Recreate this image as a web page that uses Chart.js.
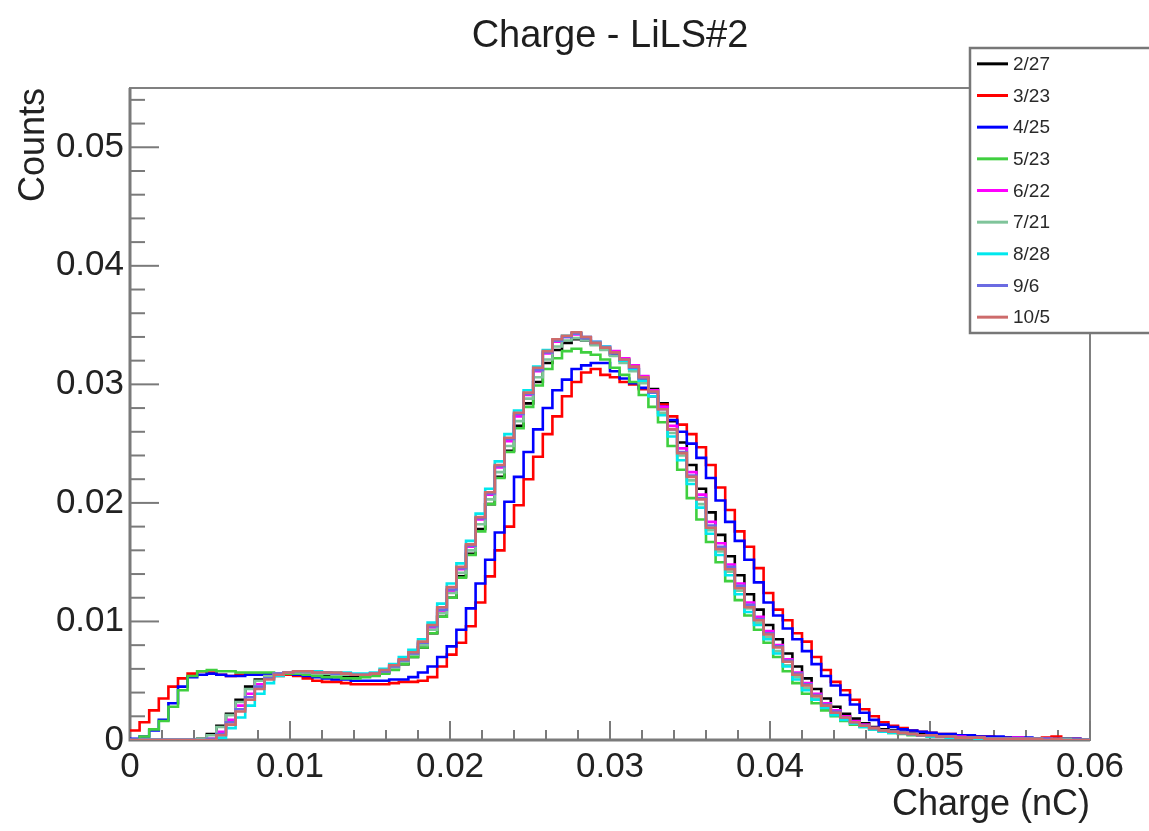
<!DOCTYPE html>
<html>
<head>
<meta charset="utf-8">
<script src="https://cdn.jsdelivr.net/npm/chart.js@4/dist/chart.umd.min.js"></script>
<style>
html,body{margin:0;padding:0;background:#fff;}
#wrap{width:1149px;height:831px;position:relative;}
</style>
</head>
<body>
<div id="wrap"><canvas id="c"></canvas></div>
<script>
// ---- data ----
const chartTitle = 'Charge - LiLS#2';
const xAxisTitle = 'Charge (nC)';
const yAxisTitle = 'Counts';
const seriesLabels = ['2/27','3/23','4/25','5/23','6/22','7/21','8/28','9/6','10/5'];
const seriesColors = ['#000000','#ff0000','#0000ff','#3fcf3f','#ff00ff','#7fc49a','#00e8ee','#6b6be2','#cd6b6b'];
const binWidth = 0.0006;   // 100 bins from 0 to 0.06 nC
const xMin = 0, xMax = 0.06, yMin = 0, yMax = 0.055;
const xTickValues = [0,0.01,0.02,0.03,0.04,0.05,0.06];
const xTickLabels = ['0','0.01','0.02','0.03','0.04','0.05','0.06'];
const yTickValues = [0,0.01,0.02,0.03,0.04,0.05];
const yTickLabels = ['0','0.01','0.02','0.03','0.04','0.05'];

const s0227 = [0,0,0,0,0,0,0,.0001,.0005,.0012,
.0022,.0034,.0045,.0051,.0054,.0055,.0056,.0056,.0056,.0056,
.0055,.0055,.0054,.0054,.0054,.0055,.0057,.0060,.0064,.0070,
.0078,.0090,.0104,.0120,.0138,.0157,.0178,.0199,.0222,.0244,
.0265,.0284,.0302,.0318,.0329,.0335,.0338,.0337,.0334,.0330,
.0325,.0320,.0313,.0305,.0296,.0284,.0269,.0251,.0232,.0212,
.0192,.0173,.0155,.0139,.0123,.0110,.0097,.0085,.0073,.0062,
.0052,.0043,.0035,.0028,.0022,.0018,.0014,.0011,.0009,.0008,
.0007,.0006,.0005,.0004,.0004,.0003,.0003,.0002,.0002,.0002,
.0001,.0001,.0001,.0001,.0001,.0001,0,.0001,0,0];

const s0323 = [.0008,.0015,.0025,.0035,.0045,.0052,.0056,.0058,.0057,.0055,
.0054,.0055,.0055,.0055,.0054,.0054,.0055,.0054,.0052,.0050,
.0049,.0049,.0048,.0047,.0047,.0047,.0047,.0048,.0049,.0049,
.0050,.0053,.0062,.0072,.0082,.0096,.0116,.0138,.0160,.0180,
.0198,.0220,.0239,.0258,.0273,.0290,.0302,.0310,.0313,.0308,
.0306,.0302,.0300,.0296,.0290,.0283,.0273,.0266,.0258,.0247,
.0232,.0213,.0194,.0176,.0163,.0145,.0124,.0110,.0101,.0090,
.0083,.0070,.0059,.0049,.0042,.0034,.0026,.0020,.0015,.0012,
.0010,.0008,.0007,.0006,.0005,.0005,.0004,.0004,.0003,.0003,
.0002,.0002,.0002,.0001,.0001,.0002,.0003,.0001,.0001,0];

const s0425 = [.0001,.0003,.0008,.0017,.0031,.0045,.0053,.0055,.0056,.0055,
.0054,.0054,.0055,.0055,.0056,.0056,.0056,.0055,.0054,.0053,
.0052,.0051,.0051,.0050,.0050,.0050,.0050,.0051,.0051,.0053,
.0057,.0062,.0070,.0079,.0093,.0111,.0132,.0152,.0175,.0201,
.0222,.0243,.0262,.0280,.0295,.0304,.0313,.0316,.0318,.0318,
.0311,.0305,.0301,.0297,.0290,.0281,.0270,.0260,.0250,.0238,
.0221,.0202,.0184,.0168,.0152,.0133,.0116,.0105,.0094,.0085,
.0075,.0064,.0054,.0046,.0038,.0030,.0023,.0017,.0013,.0011,
.0009,.0008,.0007,.0006,.0005,.0005,.0004,.0004,.0003,.0003,
.0003,.0002,.0002,.0002,.0001,.0001,.0001,.0001,.0001,0];

const s0523 = [0,.0003,.0009,.0016,.0028,.0042,.0054,.0058,.0059,.0058,
.0058,.0057,.0057,.0057,.0057,.0056,.0056,.0056,.0055,.0054,
.0053,.0053,.0052,.0052,.0053,.0054,.0056,.0059,.0064,.0070,
.0078,.0090,.0104,.0120,.0137,.0156,.0176,.0199,.0221,.0243,
.0263,.0281,.0299,.0313,.0322,.0328,.0330,.0327,.0325,.0321,
.0314,.0308,.0302,.0291,.0281,.0268,.0248,.0228,.0204,.0186,
.0167,.0150,.0134,.0118,.0105,.0093,.0082,.0070,.0058,.0048,
.0039,.0031,.0025,.0020,.0016,.0013,.0011,.0009,.0007,.0006,
.0005,.0004,.0004,.0003,.0003,.0002,.0002,.0002,.0001,.0001,
.0001,.0001,.0001,.0001,0,.0001,0,0,0,0];

const s0622 = [0,0,0,0,0,0,0,0,.0001,.0007,
.0017,.0029,.0039,.0047,.0053,.0056,.0057,.0058,.0057,.0057,
.0056,.0056,.0056,.0055,.0055,.0056,.0058,.0062,.0067,.0073,
.0081,.0095,.0109,.0126,.0144,.0163,.0186,.0207,.0230,.0252,
.0273,.0291,.0311,.0326,.0336,.0340,.0342,.0340,.0336,.0332,
.0328,.0322,.0316,.0307,.0295,.0281,.0265,.0246,.0226,.0207,
.0184,.0166,.0148,.0132,.0116,.0104,.0092,.0080,.0068,.0057,
.0048,.0039,.0031,.0025,.0020,.0016,.0013,.0010,.0008,.0007,
.0006,.0005,.0004,.0004,.0003,.0003,.0003,.0002,.0002,.0001,
.0001,.0001,.0002,.0001,.0001,.0001,0,0,0,0];

const s0721 = [0,0,0,0,0,0,0,.0001,.0004,.0011,
.0021,.0032,.0043,.0050,.0054,.0056,.0057,.0057,.0057,.0056,
.0056,.0055,.0055,.0055,.0055,.0056,.0058,.0061,.0066,.0072,
.0080,.0093,.0107,.0124,.0141,.0160,.0182,.0203,.0226,.0248,
.0269,.0288,.0306,.0321,.0332,.0337,.0339,.0337,.0333,.0329,
.0324,.0318,.0311,.0301,.0290,.0276,.0259,.0240,.0219,.0199,
.0177,.0159,.0142,.0126,.0111,.0099,.0087,.0075,.0063,.0053,
.0044,.0035,.0028,.0022,.0018,.0014,.0012,.0009,.0008,.0007,
.0006,.0005,.0004,.0003,.0003,.0003,.0002,.0002,.0001,.0001,
.0001,.0001,.0001,.0001,.0001,0,0,.0001,0,0];

const s0828 = [0,0,0,0,0,0,0,0,0,.0002,
.0010,.0019,.0029,.0039,.0048,.0054,.0057,.0058,.0058,.0058,
.0057,.0057,.0057,.0056,.0056,.0057,.0060,.0064,.0070,.0076,
.0085,.0099,.0115,.0132,.0149,.0168,.0191,.0212,.0235,.0258,
.0278,.0295,.0315,.0329,.0337,.0341,.0343,.0340,.0336,.0332,
.0327,.0320,.0313,.0303,.0290,.0274,.0256,.0236,.0216,.0196,
.0174,.0156,.0139,.0123,.0108,.0097,.0085,.0073,.0062,.0051,
.0042,.0034,.0027,.0021,.0017,.0014,.0011,.0009,.0007,.0006,
.0006,.0005,.0004,.0003,.0003,.0002,.0002,.0002,.0001,.0001,
.0001,.0001,.0001,0,.0001,0,0,0,0,0];

const s0906 = [0,0,0,0,0,0,0,0,.0001,.0005,
.0015,.0026,.0036,.0045,.0052,.0056,.0057,.0058,.0058,.0057,
.0057,.0056,.0056,.0055,.0055,.0056,.0058,.0062,.0067,.0073,
.0082,.0096,.0110,.0127,.0145,.0164,.0187,.0208,.0231,.0254,
.0275,.0292,.0312,.0327,.0337,.0340,.0343,.0339,.0335,.0331,
.0326,.0321,.0314,.0305,.0293,.0279,.0262,.0243,.0223,.0204,
.0181,.0163,.0146,.0130,.0114,.0102,.0090,.0079,.0067,.0056,
.0047,.0038,.0030,.0024,.0019,.0015,.0012,.0010,.0008,.0007,
.0006,.0005,.0004,.0004,.0003,.0003,.0002,.0002,.0002,.0001,
.0001,.0001,.0001,.0001,.0001,.0001,0,0,0,0];

const s1005 = [0,0,0,0,0,0,0,0,0,.0004,
.0013,.0024,.0034,.0043,.0051,.0055,.0057,.0058,.0058,.0057,
.0057,.0057,.0056,.0055,.0055,.0056,.0059,.0063,.0068,.0074,
.0083,.0097,.0112,.0129,.0146,.0165,.0188,.0209,.0232,.0255,
.0276,.0293,.0314,.0328,.0338,.0341,.0344,.0340,.0335,.0331,
.0327,.0321,.0315,.0306,.0294,.0279,.0262,.0242,.0222,.0203,
.0179,.0161,.0144,.0128,.0112,.0101,.0089,.0078,.0066,.0055,
.0046,.0037,.0029,.0023,.0019,.0015,.0012,.0010,.0008,.0007,
.0006,.0005,.0004,.0004,.0003,.0003,.0002,.0002,.0002,.0001,
.0001,.0001,.0001,.0001,.0001,0,.0001,0,0,0];

const seriesValues = [s0227,s0323,s0425,s0523,s0622,s0721,s0828,s0906,s1005];

// ---- build histogram outlines (points at bin low edges, step held to next edge) ----
function histPoints(vals){
  const pts = vals.map((v,i)=>({x: i*binWidth, y: v}));
  pts.push({x: vals.length*binWidth, y: vals[vals.length-1]});
  return pts;
}

const FONT = "'Liberation Sans', Arial, Helvetica, sans-serif";
Chart.defaults.font.family = FONT;

const rootFrame = {
  id: 'rootFrame',
  beforeDatasetsDraw(chart){
    const {ctx, chartArea:a, scales:{x, y}} = chart;
    ctx.save();
    ctx.strokeStyle = '#808080';
    ctx.lineWidth = 2;
    ctx.strokeRect(a.left, a.top, a.right-a.left, a.bottom-a.top);
    ctx.lineWidth = 2;
    ctx.strokeStyle = '#7a7a7a';
    // y ticks (inside, pointing right)
    const yStep = (yTickValues[1]-yTickValues[0])/5;
    for(let i=0;;i++){
      const v = i*yStep;
      if(v > y.max + 1e-12) break;
      const p = y.getPixelForValue(v);
      const len = (i%5===0) ? 29 : 15;
      ctx.beginPath(); ctx.moveTo(a.left, p); ctx.lineTo(a.left+len, p); ctx.stroke();
    }
    // x ticks (inside, pointing up)
    const xStep = (xTickValues[1]-xTickValues[0])/5;
    for(let i=0;;i++){
      const v = i*xStep;
      if(v > x.max + 1e-12) break;
      const p = x.getPixelForValue(v);
      const len = (i%5===0) ? 19 : 10;
      ctx.beginPath(); ctx.moveTo(p, a.bottom); ctx.lineTo(p, a.bottom-len); ctx.stroke();
    }
    // heavier axis lines
    ctx.lineWidth = 3;
    ctx.beginPath();
    ctx.moveTo(a.left, a.top); ctx.lineTo(a.left, a.bottom); ctx.lineTo(a.right, a.bottom);
    ctx.stroke();
    ctx.restore();
  }
};

const rootLegend = {
  id: 'rootLegend',
  afterDraw(chart){
    const {ctx} = chart;
    const bx = 970, by = 48, bw = 200, bh = 285;
    ctx.save();
    ctx.fillStyle = '#ffffff';
    ctx.fillRect(bx, by, bw, bh);
    ctx.strokeStyle = '#777777';
    ctx.lineWidth = 2.5;
    ctx.strokeRect(bx, by, bw, bh);
    const ds = chart.data.datasets;
    const step = bh / ds.length;
    ctx.font = '19px ' + FONT;
    ctx.textBaseline = 'middle';
    ctx.textAlign = 'left';
    ds.forEach((d,i)=>{
      const yy = by + step*(i+0.5);
      ctx.strokeStyle = d.borderColor;
      ctx.lineWidth = 3;
      ctx.beginPath(); ctx.moveTo(977, yy); ctx.lineTo(1008, yy); ctx.stroke();
      ctx.fillStyle = '#2a2a2a';
      ctx.fillText(d.label, 1013, yy+1);
    });
    ctx.restore();
  }
};

const datasets = seriesLabels.map((lab,i)=>({
  label: lab,
  data: histPoints(seriesValues[i]),
  borderColor: seriesColors[i],
  backgroundColor: seriesColors[i],
  borderWidth: 2.6,
  pointRadius: 0,
  pointHoverRadius: 0,
  fill: false,
  stepped: true,
  tension: 0,
  order: seriesLabels.length - 1 - i
}));

new Chart(document.getElementById('c'), {
  type: 'line',
  data: { datasets },
  options: {
    responsive: true,
    maintainAspectRatio: false,
    animation: false,
    events: [],
    layout: { padding: { left: 0, right: 59, top: 0, bottom: 0 } },
    plugins: {
      legend: { display: false },
      tooltip: { enabled: false },
      title: {
        display: true, text: chartTitle, fullSize: false,
        color: '#1e1e1e', font: { size: 38, weight: 'normal' },
        padding: { top: 14, bottom: 28.4 }
      }
    },
    scales: {
      x: {
        type: 'linear', min: xMin, max: xMax,
        afterBuildTicks: s => { s.ticks = xTickValues.map(v=>({value:v})); },
        afterFit: s => { s.height = 91; },
        grid: { display: false, drawTicks: false },
        border: { display: false },
        ticks: { autoSkip: false, maxRotation: 0, padding: 6, color: '#222',
                 font: { size: 35 }, callback: (v,i) => xTickLabels[i] },
        title: { display: true, text: xAxisTitle, align: 'end', color: '#222',
                 font: { size: 36 }, padding: { top: 0, bottom: 4 } }
      },
      y: {
        type: 'linear', min: yMin, max: yMax,
        afterBuildTicks: s => { s.ticks = yTickValues.map(v=>({value:v})); },
        afterFit: s => { s.width = 130; },
        grid: { display: false, drawTicks: false },
        border: { display: false },
        ticks: { padding: 6, color: '#222', font: { size: 35 },
                 callback: (v,i) => yTickLabels[i] },
        title: { display: true, text: yAxisTitle, align: 'end', color: '#222',
                 font: { size: 36 }, padding: { top: 12, bottom: 0 } }
      }
    }
  },
  plugins: [rootFrame, rootLegend]
});
</script>
</body>
</html>
